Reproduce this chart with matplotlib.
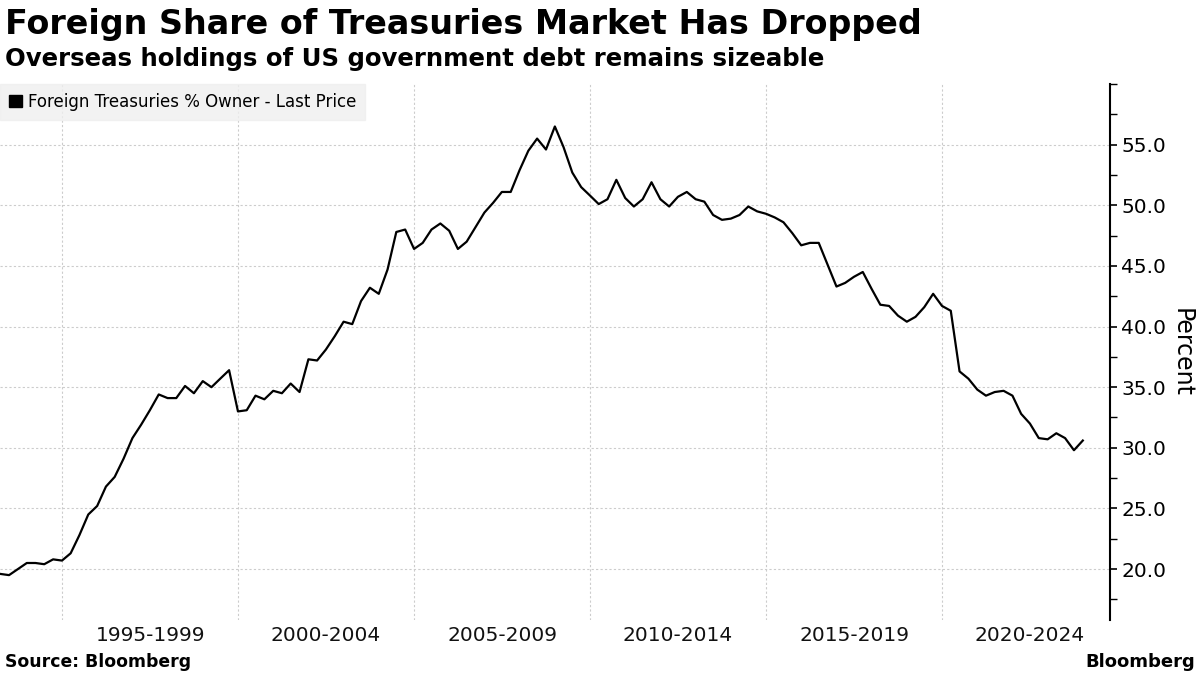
import numpy as np
import pandas as pd
import matplotlib
matplotlib.use("Agg")
import matplotlib.pyplot as plt
import matplotlib.dates as mdates
from matplotlib.ticker import FixedLocator, NullFormatter

plt.rcParams['font.family'] = ['DejaVu Sans']

# quarterly foreign share of Treasuries, 1993Q1 - 2023Q4 (percent)
quarters = pd.period_range('1993Q1', '2023Q4', freq='Q')
share = [
    19.6, 19.5, 20.0, 20.5, 20.5, 20.4, 20.8, 20.7, 21.3, 22.8,
    24.5, 25.2, 26.8, 27.6, 29.1, 30.8, 31.9, 33.1, 34.4, 34.1,
    34.1, 35.1, 34.5, 35.5, 35.0, 35.7, 36.4, 33.0, 33.1, 34.3,
    34.0, 34.7, 34.5, 35.3, 34.6, 37.3, 37.2, 38.1, 39.2, 40.4,
    40.2, 42.1, 43.2, 42.7, 44.7, 47.8, 48.0, 46.4, 46.9, 48.0,
    48.5, 47.9, 46.4, 47.0, 48.2, 49.4, 50.2, 51.1, 51.1, 52.9,
    54.5, 55.5, 54.6, 56.5, 54.8, 52.7, 51.5, 50.8, 50.1, 50.5,
    52.1, 50.6, 49.9, 50.5, 51.9, 50.5, 49.9, 50.7, 51.1, 50.5,
    50.3, 49.2, 48.8, 48.9, 49.2, 49.9, 49.5, 49.3, 49.0, 48.6,
    47.7, 46.7, 46.9, 46.9, 45.1, 43.3, 43.6, 44.1, 44.5, 43.1,
    41.8, 41.7, 40.9, 40.4, 40.8, 41.6, 42.7, 41.7, 41.3, 36.3,
    35.7, 34.8, 34.3, 34.6, 34.7, 34.3, 32.8, 32.0, 30.8, 30.7,
    31.2, 30.8, 29.8, 30.6,
]
period_labels = ['1995-1999', '2000-2004', '2005-2009', '2010-2014', '2015-2019', '2020-2024']
period_starts = [1995, 2000, 2005, 2010, 2015, 2020]

dates = quarters.end_time.normalize()

fig = plt.figure(figsize=(12, 6.75), dpi=100)
ax = fig.add_axes([0.0, 0.0815, 0.925, 0.794])

ax.plot(dates, share, color='black', linewidth=1.6, zorder=3)

# x axis: boundaries as gridlines, period names centred between them
bounds = [pd.Timestamp(f'{y}-01-01') for y in period_starts]
mids = [pd.Timestamp(f'{y + 2}-07-02') for y in period_starts]
ax.xaxis.set_major_locator(FixedLocator(mdates.date2num(bounds)))
ax.xaxis.set_major_formatter(NullFormatter())
ax.xaxis.set_minor_locator(FixedLocator(mdates.date2num(mids)))
ax.xaxis.set_minor_formatter(matplotlib.ticker.FixedFormatter(period_labels))
ax.tick_params(axis='x', which='both', length=0, labelsize=14.5, pad=4, colors='#111111')
ax.set_xlim(pd.Timestamp('1993-03-28'), pd.Timestamp('2024-10-08'))

# y axis on the right
ax.yaxis.tick_right()
ax.yaxis.set_label_position('right')
ax.set_ylim(15.8, 60)
ax.yaxis.set_major_locator(FixedLocator([20, 25, 30, 35, 40, 45, 50, 55]))
ax.yaxis.set_major_formatter(matplotlib.ticker.FormatStrFormatter('%.1f'))
ax.yaxis.set_minor_locator(FixedLocator([17.5, 22.5, 27.5, 32.5, 37.5, 42.5, 47.5, 52.5, 57.5, 60]))
ax.tick_params(axis='y', which='major', length=5, width=1.2, labelsize=14.5, pad=3, colors='black')
ax.tick_params(axis='y', which='minor', length=5, width=1.0)
ax.set_ylabel('Percent', fontsize=17, rotation=270, labelpad=20)

for s in ['top', 'left', 'bottom']:
    ax.spines[s].set_visible(False)
ax.spines['right'].set_linewidth(1.5)

ax.grid(True, which='major', color='#cccccc', linestyle=(0, (2, 2)), linewidth=0.8)

# legend box
leg = ax.legend([plt.Rectangle((0, 0), 1, 1, color='black')],
                ['Foreign Treasuries % Owner - Last Price'],
                loc='upper left', bbox_to_anchor=(0.0, 1.0), fontsize=12,
                frameon=True, fancybox=False, borderpad=0.55, handlelength=0.75,
                handleheight=0.75, handletextpad=0.35, borderaxespad=0.0)
leg.get_frame().set_facecolor('#efefef')
leg.get_frame().set_edgecolor('#efefef')

fig.text(0.004, 0.988, 'Foreign Share of Treasuries Market Has Dropped',
         fontsize=24, fontweight='bold', va='top', ha='left')
fig.text(0.004, 0.93, 'Overseas holdings of US government debt remains sizeable',
         fontsize=17.6, fontweight='bold', va='top', ha='left')
fig.text(0.004, 0.006, 'Source: Bloomberg', fontsize=12.4, fontweight='bold', va='bottom', ha='left')
fig.text(0.996, 0.006, 'Bloomberg', fontsize=13, fontweight='bold', va='bottom', ha='right')

fig.savefig('out.png', dpi=100)
